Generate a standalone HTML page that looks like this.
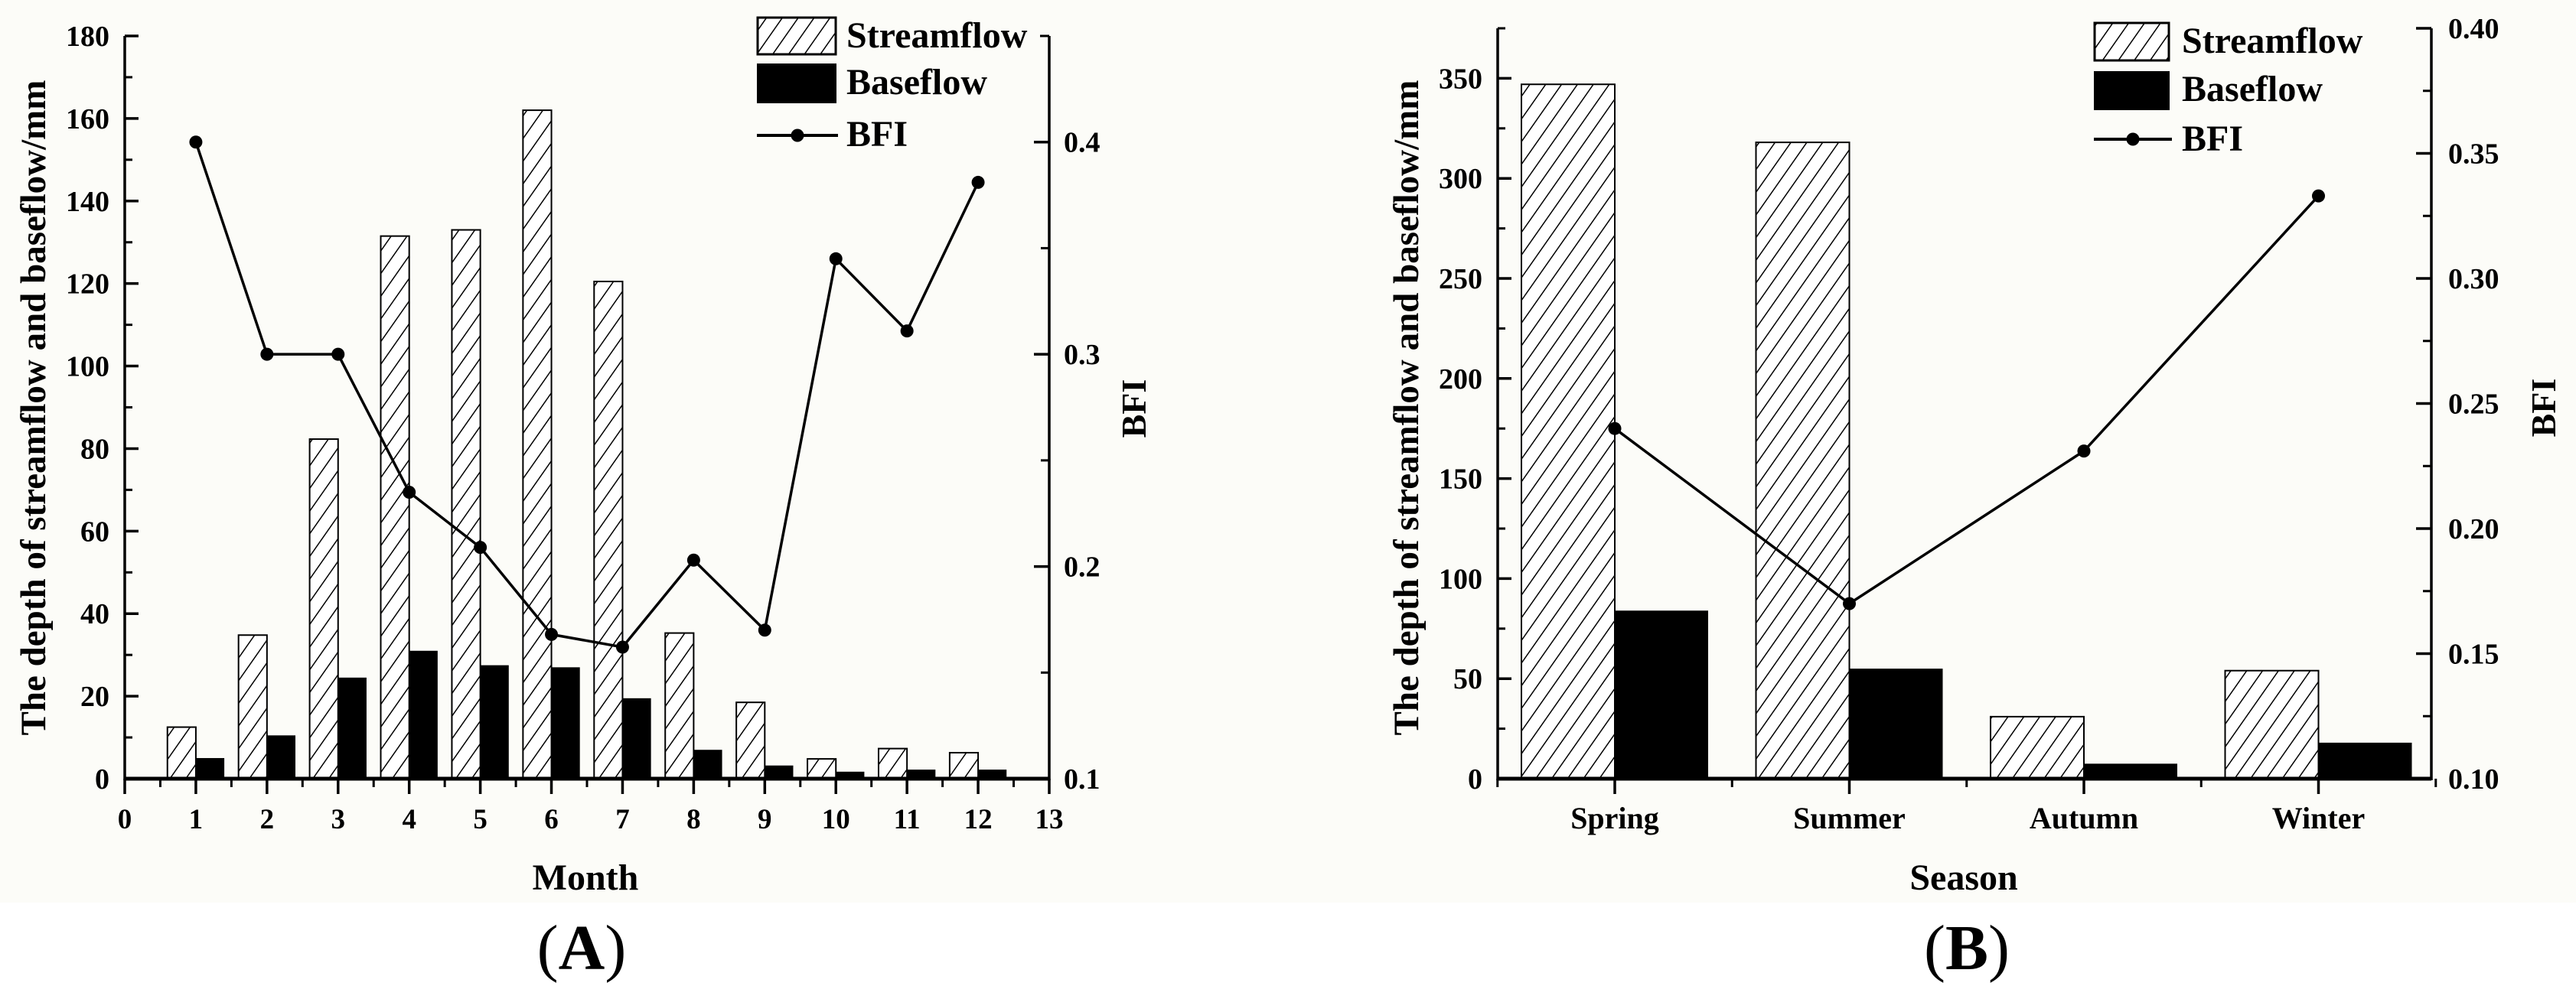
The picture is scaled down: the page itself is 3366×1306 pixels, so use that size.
<!DOCTYPE html>
<html><head><meta charset="utf-8">
<style>
html,body{margin:0;padding:0;background:#fff;}
svg{display:block;}
text{font-family:"Liberation Serif","DejaVu Serif",serif;font-weight:bold;fill:#000;}
</style></head>
<body>
<svg id="fig" width="3366" height="1306" viewBox="0 0 3366 1306" xmlns="http://www.w3.org/2000/svg">
<defs>
<pattern id="hatch" patternUnits="userSpaceOnUse" width="17" height="17" patternTransform="rotate(35)">
<rect width="17" height="17" fill="#fff"/>
<line x1="0" y1="0" x2="0" y2="17" stroke="#000" stroke-width="3"/>
</pattern>
</defs>
<rect x="0" y="0" width="3366" height="1180" fill="#fcfcf8"/>
<g id="chartA"></g>
<g id="chartB"></g>
</svg>
<script>
// ---- Chart A data ----
const monthCats = [1,2,3,4,5,6,7,8,9,10,11,12];
const monthStream = [12.5,34.8,82.3,131.5,133,162,120.5,35.3,18.5,4.8,7.3,6.3];
const monthBase = [5,10.5,24.5,31,27.5,27,19.5,7,3.2,1.7,2.2,2.2];
const monthBFI = [0.40,0.30,0.30,0.235,0.209,0.168,0.162,0.203,0.170,0.345,0.311,0.381];
const monthXTicks = ["0","1","2","3","4","5","6","7","8","9","10","11","12","13"];
const monthYTicks = ["0","20","40","60","80","100","120","140","160","180"];
const monthBFITicks = ["0.1","0.2","0.3","0.4"];
// ---- Chart B data ----
const seasonCats = ["Spring","Summer","Autumn","Winter"];
const seasonStream = [347,318,31,54];
const seasonBase = [84,55,7.5,18];
const seasonBFI = [0.24,0.17,0.231,0.333];
const seasonYTicks = ["0","50","100","150","200","250","300","350"];
const seasonBFITicks = ["0.10","0.15","0.20","0.25","0.30","0.35","0.40"];

const NS = "http://www.w3.org/2000/svg";
function mk(parent, tag, attrs, txt){
  const e = document.createElementNS(NS, tag);
  for (const k in attrs) e.setAttribute(k, attrs[k]);
  if (txt !== undefined) e.textContent = txt;
  parent.appendChild(e);
  return e;
}

/* ================= Chart A ================= */
(function(){
  const g = document.getElementById('chartA');
  const L = 163, R = 1371, T = 47, B = 1018;
  const xMin = 0, xMax = 13, yMax = 180, bMin = 0.1, bMax = 0.45;
  const xS = v => L + (v - xMin) / (xMax - xMin) * (R - L);
  const yS = v => B - v / yMax * (B - T);
  const bS = v => B - (v - bMin) / (bMax - bMin) * (B - T);
  const bw = 0.4 * (xS(1) - xS(0));

  monthCats.forEach((m, i) => {
    const s = mk(g, 'rect', {x: xS(m) - bw, y: yS(monthStream[i]), width: bw, height: B - yS(monthStream[i]), fill: 'url(#hatch)', stroke: '#000', 'stroke-width': 2});
    
    
    const b = mk(g, 'rect', {x: xS(m), y: yS(monthBase[i]), width: bw, height: B - yS(monthBase[i]), fill: '#000'});
    
    
  });
  const pts = monthCats.map((m, i) => xS(m) + ',' + bS(monthBFI[i])).join(' ');
  const pl = mk(g, 'polyline', {points: pts, fill: 'none', stroke: '#000', 'stroke-width': 3.5});
  
  
  monthCats.forEach((m, i) => {
    const c = mk(g, 'circle', {cx: xS(m), cy: bS(monthBFI[i]), r: 8.5, fill: '#000'});
    
    
  });

  // axes
  const ax = mk(g, 'line', {x1: L, y1: T, x2: L, y2: B + 2, stroke: '#000', 'stroke-width': 3.5});
  
  
  const axr = mk(g, 'line', {x1: R, y1: T, x2: R, y2: B + 2, stroke: '#000', 'stroke-width': 3.5});
  
  
  mk(g, 'line', {x1: R - 12, y1: T, x2: R, y2: T, stroke: '#000', 'stroke-width': 3});
  const axb = mk(g, 'line', {x1: L, y1: B, x2: R, y2: B, stroke: '#000', 'stroke-width': 5});
  
  

  monthYTicks.forEach(t => {
    const v = +t, y = yS(v);
    mk(g, 'line', {x1: L, y1: y, x2: L + 18, y2: y, stroke: '#000', 'stroke-width': 3.5});
    if (v < yMax) mk(g, 'line', {x1: L, y1: yS(v + 10), x2: L + 10, y2: yS(v + 10), stroke: '#000', 'stroke-width': 3});
    const tx = mk(g, 'text', {x: L - 20, y: y + 13, 'font-size': 38, 'text-anchor': 'end'}, t);
    
    
  });
  monthBFITicks.forEach(t => {
    const v = +t, y = bS(v);
    mk(g, 'line', {x1: R - 20, y1: y, x2: R, y2: y, stroke: '#000', 'stroke-width': 3.5});
    mk(g, 'line', {x1: R - 11, y1: bS(v + 0.05), x2: R, y2: bS(v + 0.05), stroke: '#000', 'stroke-width': 3});
    const tx = mk(g, 'text', {x: R + 19, y: y + 13, 'font-size': 38}, t);
    
    
  });
  monthXTicks.forEach(t => {
    const v = +t, x = xS(v);
    mk(g, 'line', {x1: x, y1: B, x2: x, y2: B + 20, stroke: '#000', 'stroke-width': 3.5});
    if (v < xMax) mk(g, 'line', {x1: xS(v + 0.5), y1: B, x2: xS(v + 0.5), y2: B + 11, stroke: '#000', 'stroke-width': 3});
    const tx = mk(g, 'text', {x: x, y: 1083, 'font-size': 37, 'text-anchor': 'middle'}, t);
    
    
  });

  const yt = mk(g, 'text', {x: 0, y: 0, 'font-size': 47, 'text-anchor': 'middle', transform: 'translate(59,533) rotate(-90)'}, 'The depth of streamflow and baseflow/mm');
  
  
  const bt = mk(g, 'text', {x: 0, y: 0, 'font-size': 46, 'text-anchor': 'middle', transform: 'translate(1497,534) rotate(-90)'}, 'BFI');
  
  
  const xt = mk(g, 'text', {x: 765, y: 1163, 'font-size': 48, 'text-anchor': 'middle'}, 'Month');
  
  
  const pa = mk(g, 'text', {x: 760, y: 1267, 'font-size': 84, 'text-anchor': 'middle'});
  
  
  mk(pa, 'tspan', {'font-weight': 'normal'}, '(');
  mk(pa, 'tspan', {}, 'A');
  mk(pa, 'tspan', {'font-weight': 'normal'}, ')');

  // legend
  const lg = mk(g, 'g', {});
  
  
  mk(lg, 'rect', {x: 990, y: 23, width: 102, height: 48, fill: 'url(#hatch)', stroke: '#000', 'stroke-width': 3});
  mk(lg, 'text', {x: 1106, y: 62, 'font-size': 48}, 'Streamflow');
  mk(lg, 'rect', {x: 989, y: 83, width: 104, height: 52, fill: '#000'});
  mk(lg, 'text', {x: 1106, y: 123, 'font-size': 48}, 'Baseflow');
  mk(lg, 'line', {x1: 989, y1: 177, x2: 1095, y2: 177, stroke: '#000', 'stroke-width': 4});
  mk(lg, 'circle', {cx: 1042, cy: 177, r: 8.5, fill: '#000'});
  mk(lg, 'text', {x: 1106, y: 191, 'font-size': 48}, 'BFI');
})();

/* ================= Chart B ================= */
(function(){
  const g = document.getElementById('chartB');
  const L = 1957, R = 3177, T = 37, B = 1018;
  const yMax = 375, bMin = 0.10, bMax = 0.40;
  const c0 = 2110, step = 306.5;
  const xS = i => c0 + i * step;
  const yS = v => B - v / yMax * (B - T);
  const bS = v => B - (v - bMin) / (bMax - bMin) * (B - T);
  const bw = 122;

  seasonCats.forEach((c, i) => {
    const s = mk(g, 'rect', {x: xS(i) - bw, y: yS(seasonStream[i]), width: bw, height: B - yS(seasonStream[i]), fill: 'url(#hatch)', stroke: '#000', 'stroke-width': 2});
    
    
    const b = mk(g, 'rect', {x: xS(i), y: yS(seasonBase[i]), width: bw, height: B - yS(seasonBase[i]), fill: '#000'});
    
    
  });
  const pts = seasonCats.map((c, i) => xS(i) + ',' + bS(seasonBFI[i])).join(' ');
  const pl = mk(g, 'polyline', {points: pts, fill: 'none', stroke: '#000', 'stroke-width': 3.5});
  
  
  seasonCats.forEach((c, i) => {
    const p = mk(g, 'circle', {cx: xS(i), cy: bS(seasonBFI[i]), r: 8.5, fill: '#000'});
    
    
  });

  const ax = mk(g, 'line', {x1: L, y1: T, x2: L, y2: B + 2, stroke: '#000', 'stroke-width': 3.5});
  
  
  const axr = mk(g, 'line', {x1: R, y1: T, x2: R, y2: B + 2, stroke: '#000', 'stroke-width': 3.5});
  
  
  const axb = mk(g, 'line', {x1: L, y1: B, x2: R, y2: B, stroke: '#000', 'stroke-width': 5});
  
  

  seasonYTicks.forEach(t => {
    const v = +t, y = yS(v);
    mk(g, 'line', {x1: L, y1: y, x2: L + 18, y2: y, stroke: '#000', 'stroke-width': 3.5});
    mk(g, 'line', {x1: L, y1: yS(v + 25), x2: L + 10, y2: yS(v + 25), stroke: '#000', 'stroke-width': 3});
    const tx = mk(g, 'text', {x: L - 20, y: y + 13, 'font-size': 38, 'text-anchor': 'end'}, t);
    
    
  });
  seasonBFITicks.forEach(t => {
    const v = +t, y = bS(v);
    mk(g, 'line', {x1: R - 20, y1: y, x2: R, y2: y, stroke: '#000', 'stroke-width': 3.5});
    if (v < bMax - 0.001) mk(g, 'line', {x1: R - 11, y1: bS(v + 0.025), x2: R, y2: bS(v + 0.025), stroke: '#000', 'stroke-width': 3});
    const tx = mk(g, 'text', {x: R + 22, y: y + 13, 'font-size': 38}, t);
    
    
  });
  seasonCats.forEach((c, i) => {
    const x = xS(i);
    mk(g, 'line', {x1: x, y1: B, x2: x, y2: B + 20, stroke: '#000', 'stroke-width': 3.5});
    mk(g, 'line', {x1: x + step / 2, y1: B, x2: x + step / 2, y2: B + 11, stroke: '#000', 'stroke-width': 3});
    if (i === 0) mk(g, 'line', {x1: x - step / 2, y1: B, x2: x - step / 2, y2: B + 11, stroke: '#000', 'stroke-width': 3});
    const tx = mk(g, 'text', {x: x, y: 1083, 'font-size': 40, 'text-anchor': 'middle'}, c);
    
    
  });

  const yt = mk(g, 'text', {x: 0, y: 0, 'font-size': 47, 'text-anchor': 'middle', transform: 'translate(1853,533) rotate(-90)'}, 'The depth of streamflow and baseflow/mm');
  
  
  const bt = mk(g, 'text', {x: 0, y: 0, 'font-size': 46, 'text-anchor': 'middle', transform: 'translate(3339,533) rotate(-90)'}, 'BFI');
  
  
  const xt = mk(g, 'text', {x: 2566, y: 1163, 'font-size': 48, 'text-anchor': 'middle'}, 'Season');
  
  
  const pb = mk(g, 'text', {x: 2570, y: 1267, 'font-size': 84, 'text-anchor': 'middle'});
  
  
  mk(pb, 'tspan', {'font-weight': 'normal'}, '(');
  mk(pb, 'tspan', {}, 'B');
  mk(pb, 'tspan', {'font-weight': 'normal'}, ')');

  const lg = mk(g, 'g', {});
  
  
  mk(lg, 'rect', {x: 2737, y: 30, width: 97, height: 49, fill: 'url(#hatch)', stroke: '#000', 'stroke-width': 3});
  mk(lg, 'text', {x: 2851, y: 69, 'font-size': 48}, 'Streamflow');
  mk(lg, 'rect', {x: 2736, y: 93, width: 99, height: 51, fill: '#000'});
  mk(lg, 'text', {x: 2851, y: 132, 'font-size': 48}, 'Baseflow');
  mk(lg, 'line', {x1: 2736, y1: 182, x2: 2838, y2: 182, stroke: '#000', 'stroke-width': 4});
  mk(lg, 'circle', {cx: 2787, cy: 182, r: 8.5, fill: '#000'});
  mk(lg, 'text', {x: 2851, y: 197, 'font-size': 48}, 'BFI');
})();
</script>
</body></html>
